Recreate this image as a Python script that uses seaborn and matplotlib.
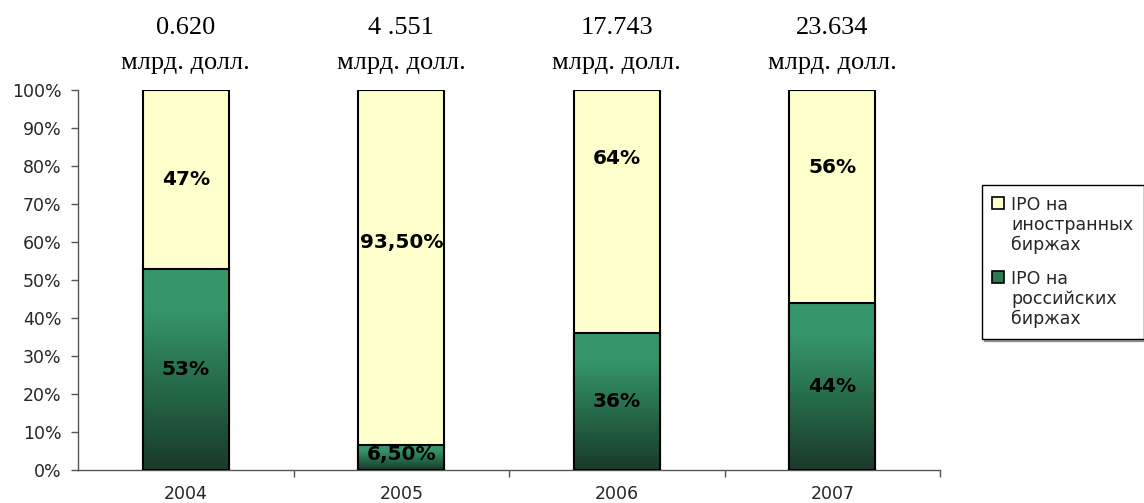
import numpy as np
import pandas as pd
import matplotlib
matplotlib.use("Agg")
import matplotlib.pyplot as plt
import seaborn as sns
from matplotlib.colors import LinearSegmentedColormap
from matplotlib.patches import Patch, Rectangle
from matplotlib.legend_handler import HandlerPatch
from matplotlib.ticker import FixedLocator

# ---- data ----
years = ["2004", "2005", "2006", "2007"]
russian = [53.0, 6.5, 36.0, 44.0]
foreign = [47.0, 93.5, 64.0, 56.0]
russian_labels = ["53%", "6,50%", "36%", "44%"]
foreign_labels = ["47%", "93,50%", "64%", "56%"]
volumes = ["0.620", "4 .551", "17.743", "23.634"]
volume_unit = "млрд. долл."
legend_labels = ["IPO на\nиностранных\nбиржах", "IPO на\nроссийских\nбиржах"]
# vertical placement of the foreign-share labels (as in the original)
foreign_label_y = [76.5, 60.0, 82.0, 79.5]

yellow = "#FFFFCC"
green_top = "#36966A"
green_bot = "#1A3A2A"

sns.set_theme(style="white")
plt.rcParams["font.family"] = ["DejaVu Sans"]

fig = plt.figure(figsize=(11.44, 5.03), dpi=100)
ax = fig.add_axes([0.0682, 0.0656, 0.7535, 0.7554])

df = pd.DataFrame({"year": years, "russian": russian, "foreign": foreign})
df["total"] = df["russian"] + df["foreign"]

sns.barplot(data=df, x="year", y="total", color=yellow, saturation=1,
            width=0.40, edgecolor="black", linewidth=1.5, ax=ax, zorder=2)
sns.barplot(data=df, x="year", y="russian", color=green_top, saturation=1,
            width=0.40, edgecolor="black", linewidth=1.5, ax=ax, zorder=3)

# gradient fill on the green bars
cmap = LinearSegmentedColormap.from_list(
    "g", [(0.0, green_bot), (0.45, "#276E4C"), (0.8, green_top), (1.0, green_top)])
grad = np.linspace(0, 1, 256).reshape(-1, 1)
green_patches = ax.containers[1].patches
for p in green_patches:
    x0, y0 = p.get_x(), p.get_y()
    w, h = p.get_width(), p.get_height()
    im = ax.imshow(grad, extent=[x0, x0 + w, y0, y0 + h], origin="lower",
                   aspect="auto", cmap=cmap, zorder=3.5, interpolation="bilinear")
    im.set_clip_path(p)
    p.set_facecolor("none")
    p.set_zorder(4)

ax.set_xlim(-0.5, 3.5)
ax.set_ylim(0, 100)
ax.set_aspect("auto")

# labels inside bars
for i in range(len(years)):
    ax.text(i, russian[i] / 2 + (0.7 if russian[i] < 10 else 0), russian_labels[i],
            ha="center", va="center", fontsize=14.5, fontweight="bold",
            color="black", zorder=6)
    ax.text(i, foreign_label_y[i], foreign_labels[i], ha="center", va="center",
            fontsize=14.5, fontweight="bold", color="black", zorder=6)

# volume labels above bars
trans = matplotlib.transforms.blended_transform_factory(ax.transData, ax.transAxes)
for i in range(len(years)):
    ax.text(i, 1.163, volumes[i], transform=trans, ha="center", va="center",
            fontsize=19, family="Liberation Serif", color="black")
    ax.text(i, 1.071, volume_unit, transform=trans, ha="center", va="center",
            fontsize=19, family="Liberation Serif", color="black")

# axes styling
ax.set_xlabel("")
ax.set_ylabel("")
ax.set_yticks(np.arange(0, 101, 10))
ax.set_yticklabels([f"{v}%" for v in range(0, 101, 10)], fontsize=12.5)
ax.set_xticklabels(years, fontsize=12.5)
ax.xaxis.set_minor_locator(FixedLocator([0.5, 1.5, 2.5, 3.5]))
ax.tick_params(axis="x", which="major", length=0, pad=11)
ax.tick_params(axis="x", which="minor", length=5, width=1, color="#555555",
               direction="out", bottom=True)
ax.tick_params(axis="y", which="major", length=5, width=1, color="#555555",
               direction="out", left=True, pad=7)
for s in ["top", "right"]:
    ax.spines[s].set_visible(False)
for s in ["left", "bottom"]:
    ax.spines[s].set_color("#555555")
    ax.spines[s].set_linewidth(1.0)
ax.grid(False)


# legend: square markers aligned with the first text line
class TopHandler(HandlerPatch):
    def create_artists(self, legend, orig_handle, xdescent, ydescent, width,
                       height, fontsize, trans):
        shift = fontsize * 1.3
        r = Rectangle((-xdescent, -ydescent + shift), width, height,
                      facecolor=orig_handle.get_facecolor(),
                      edgecolor=orig_handle.get_edgecolor(),
                      linewidth=orig_handle.get_linewidth())
        r.set_transform(trans)
        return [r]


handles = [Patch(facecolor=yellow, edgecolor="black", linewidth=1.2),
           Patch(facecolor="#2C7A52", edgecolor="black", linewidth=1.2)]
leg = fig.legend(handles, legend_labels, loc="upper left",
                 bbox_to_anchor=(0.858, 0.632), fontsize=12.5, frameon=True,
                 fancybox=False, shadow=True, handlelength=0.7,
                 handleheight=0.7, handletextpad=0.4, borderpad=0.6,
                 labelspacing=0.9, borderaxespad=0,
                 handler_map={Patch: TopHandler()})
leg.get_frame().set_edgecolor("black")
leg.get_frame().set_linewidth(1.0)
for t in leg.get_texts():
    t.set_linespacing(1.15)

fig.savefig("out.png", dpi=100)
